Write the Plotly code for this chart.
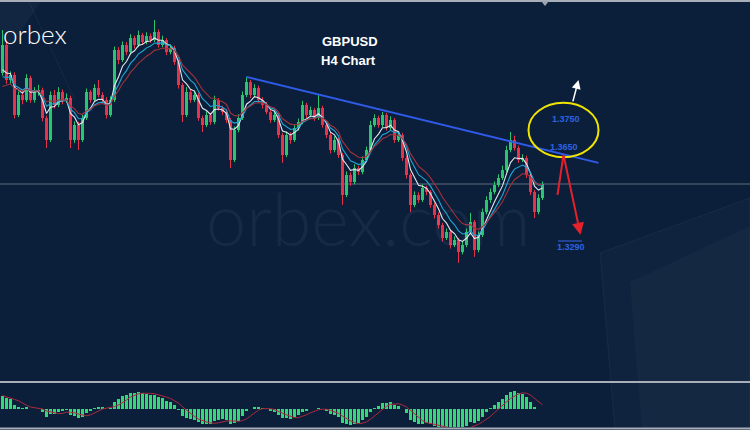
import plotly.graph_objects as go

# ---------------- data (GBPUSD H4 candles) ----------------
opens = [1.3910, 1.4008, 1.3885, 1.3903, 1.3763, 1.3833, 1.3815, 1.3892, 1.3815, 1.3843,
         1.3850, 1.3752, 1.3675, 1.3833, 1.3798, 1.3843, 1.3815, 1.3822, 1.3675, 1.3728,
         1.3675, 1.3752, 1.3843, 1.3815, 1.3857, 1.3833, 1.3815, 1.3763, 1.3815, 1.3990,
         1.3955, 1.4008, 1.3983, 1.4032, 1.4008, 1.4042, 1.4018, 1.4039, 1.4025, 1.4053,
         1.4008, 1.4025, 1.3983, 1.3997, 1.3948, 1.3868, 1.3763, 1.3843, 1.3815, 1.3833,
         1.3752, 1.3728, 1.3763, 1.3738, 1.3815, 1.3787, 1.3773, 1.3745, 1.3605, 1.3710,
         1.3752, 1.3833, 1.3878, 1.3833, 1.3857, 1.3815, 1.3798, 1.3773, 1.3745, 1.3763,
         1.3693, 1.3623, 1.3693, 1.3675, 1.3717, 1.3738, 1.3798, 1.3763, 1.3780, 1.3752,
         1.3787, 1.3728, 1.3693, 1.3640, 1.3675, 1.3623, 1.3483, 1.3553, 1.3528, 1.3577,
         1.3563, 1.3605, 1.3640, 1.3728, 1.3752, 1.3728, 1.3763, 1.3717, 1.3745, 1.3675,
         1.3693, 1.3612, 1.3553, 1.3448, 1.3483, 1.3465, 1.3507, 1.3493, 1.3448, 1.3413,
         1.3378, 1.3332, 1.3353, 1.3308, 1.3325, 1.3283, 1.3308, 1.3353, 1.3388, 1.3290,
         1.3343, 1.3423, 1.3465, 1.3493, 1.3518, 1.3542, 1.3570, 1.3640, 1.3675, 1.3647,
         1.3605, 1.3612, 1.3553, 1.3493, 1.3423, 1.3472]

highs = [1.4060, 1.4020, 1.3915, 1.3912, 1.3845, 1.3850, 1.3905, 1.3900, 1.3860, 1.3868,
         1.3858, 1.3760, 1.3845, 1.3850, 1.3860, 1.3852, 1.3838, 1.3830, 1.3740, 1.3738,
         1.3765, 1.3855, 1.3850, 1.3870, 1.3885, 1.3842, 1.3825, 1.3828, 1.4002, 1.4000,
         1.4020, 1.4018, 1.4045, 1.4040, 1.4058, 1.4050, 1.4052, 1.4048, 1.4095, 1.4062,
         1.4040, 1.4032, 1.4010, 1.4005, 1.3955, 1.3875, 1.3860, 1.3852, 1.3848, 1.3840,
         1.3760, 1.3775, 1.3770, 1.3830, 1.3822, 1.3795, 1.3782, 1.3752, 1.3722, 1.3765,
         1.3845, 1.3896, 1.3885, 1.3870, 1.3865, 1.3825, 1.3808, 1.3782, 1.3775, 1.3770,
         1.3700, 1.3705, 1.3702, 1.3728, 1.3750, 1.3812, 1.3805, 1.3792, 1.3788, 1.3833,
         1.3795, 1.3735, 1.3700, 1.3688, 1.3682, 1.3630, 1.3565, 1.3562, 1.3590, 1.3585,
         1.3618, 1.3652, 1.3742, 1.3765, 1.3760, 1.3773, 1.3770, 1.3758, 1.3752, 1.3705,
         1.3700, 1.3620, 1.3560, 1.3495, 1.3492, 1.3520, 1.3515, 1.3500, 1.3455, 1.3422,
         1.3385, 1.3365, 1.3360, 1.3338, 1.3332, 1.3320, 1.3365, 1.3420, 1.3395, 1.3355,
         1.3435, 1.3478, 1.3505, 1.3530, 1.3555, 1.3585, 1.3655, 1.3703, 1.3690, 1.3655,
         1.3625, 1.3620, 1.3560, 1.3500, 1.3485, 1.3530]

lows = [1.3900, 1.3872, 1.3870, 1.3750, 1.3755, 1.3800, 1.3808, 1.3805, 1.3806, 1.3830,
        1.3740, 1.3647, 1.3668, 1.3785, 1.3790, 1.3800, 1.3805, 1.3647, 1.3665, 1.3640,
        1.3668, 1.3745, 1.3805, 1.3808, 1.3825, 1.3802, 1.3750, 1.3755, 1.3808, 1.3940,
        1.3948, 1.3972, 1.3975, 1.3995, 1.4000, 1.4008, 1.4010, 1.4015, 1.4018, 1.3998,
        1.4000, 1.3972, 1.3975, 1.3938, 1.3855, 1.3738, 1.3755, 1.3805, 1.3808, 1.3742,
        1.3703, 1.3720, 1.3728, 1.3730, 1.3778, 1.3762, 1.3735, 1.3577, 1.3598, 1.3702,
        1.3745, 1.3825, 1.3822, 1.3825, 1.3805, 1.3785, 1.3765, 1.3735, 1.3738, 1.3682,
        1.3595, 1.3615, 1.3662, 1.3668, 1.3708, 1.3730, 1.3752, 1.3755, 1.3742, 1.3745,
        1.3718, 1.3682, 1.3628, 1.3632, 1.3612, 1.3448, 1.3475, 1.3515, 1.3520, 1.3552,
        1.3555, 1.3598, 1.3632, 1.3720, 1.3718, 1.3720, 1.3708, 1.3710, 1.3665, 1.3668,
        1.3602, 1.3540, 1.3423, 1.3440, 1.3455, 1.3458, 1.3482, 1.3438, 1.3400, 1.3365,
        1.3320, 1.3325, 1.3295, 1.3300, 1.3245, 1.3275, 1.3300, 1.3345, 1.3266, 1.3282,
        1.3335, 1.3415, 1.3455, 1.3485, 1.3510, 1.3535, 1.3562, 1.3632, 1.3638, 1.3595,
        1.3598, 1.3542, 1.3482, 1.3402, 1.3415, 1.3465]

closes = [1.4008, 1.3885, 1.3903, 1.3763, 1.3833, 1.3815, 1.3892, 1.3815, 1.3843, 1.3850,
          1.3752, 1.3675, 1.3833, 1.3798, 1.3843, 1.3815, 1.3822, 1.3675, 1.3728, 1.3675,
          1.3752, 1.3843, 1.3815, 1.3857, 1.3833, 1.3815, 1.3763, 1.3815, 1.3990, 1.3955,
          1.4008, 1.3983, 1.4032, 1.4008, 1.4042, 1.4018, 1.4039, 1.4025, 1.4053, 1.4008,
          1.4025, 1.3983, 1.3997, 1.3948, 1.3868, 1.3763, 1.3843, 1.3815, 1.3833, 1.3752,
          1.3728, 1.3763, 1.3738, 1.3815, 1.3787, 1.3773, 1.3745, 1.3605, 1.3710, 1.3752,
          1.3833, 1.3878, 1.3833, 1.3857, 1.3815, 1.3798, 1.3773, 1.3745, 1.3763, 1.3693,
          1.3623, 1.3693, 1.3675, 1.3717, 1.3738, 1.3798, 1.3763, 1.3780, 1.3752, 1.3787,
          1.3728, 1.3693, 1.3640, 1.3675, 1.3623, 1.3483, 1.3553, 1.3528, 1.3577, 1.3563,
          1.3605, 1.3640, 1.3728, 1.3752, 1.3728, 1.3763, 1.3717, 1.3745, 1.3675, 1.3693,
          1.3612, 1.3553, 1.3448, 1.3483, 1.3465, 1.3507, 1.3493, 1.3448, 1.3413, 1.3378,
          1.3332, 1.3353, 1.3308, 1.3325, 1.3283, 1.3308, 1.3353, 1.3388, 1.3290, 1.3343,
          1.3423, 1.3465, 1.3493, 1.3518, 1.3542, 1.3570, 1.3640, 1.3675, 1.3647, 1.3605,
          1.3612, 1.3553, 1.3493, 1.3423, 1.3472, 1.3521]

title_lines = ["GBPUSD", "H4 Chart"]
level_labels = ["1.3750", "1.3650", "1.3290"]
level_values = [1.3750, 1.3650, 1.3290]
trend_x = [61, 149]
trend_y = [1.3896, 1.3595]
ma_periods = [5, 8, 12]          # white, cyan, dark red
macd_params = (7, 16, 5)

# ---------------- helpers ----------------
W, H = 750, 430
BG = '#0b1f3b'
UP = '#2cc56f'
DN = '#e53449'


def px(x):
    return x / W


def py(y):
    return 1 - y / H


def ema(vals, n):
    k = 2.0 / (n + 1)
    e = sum(vals[:n]) / n
    out = []
    for v in vals:
        e = e + k * (v - e)
        out.append(e)
    return out


def sma(vals, n):
    out = []
    for i in range(len(vals)):
        w = vals[max(0, i - n + 1): i + 1]
        out.append(sum(w) / len(w))
    return out


n = len(closes)
idx = list(range(n))
fig = go.Figure()

# candles
for flag, col in [(True, UP), (False, DN)]:
    xs = [i for i in idx if (closes[i] >= opens[i]) == flag]
    wx, wy = [], []
    for i in xs:
        wx += [i, i, None]
        wy += [lows[i], highs[i], None]
    fig.add_trace(go.Scatter(x=wx, y=wy, mode='lines', line=dict(color=col, width=1),
                             hoverinfo='skip', xaxis='x', yaxis='y'))
    fig.add_trace(go.Bar(x=xs,
                         y=[max(abs(closes[i] - opens[i]), 0.0004) for i in xs],
                         base=[min(opens[i], closes[i]) for i in xs],
                         width=0.55, marker=dict(color=col, line=dict(width=0)),
                         hoverinfo='skip', xaxis='x', yaxis='y'))

# moving averages
for per, col in zip(ma_periods, ['#e4e8ee', '#22a6d6', '#a0323a']):
    fig.add_trace(go.Scatter(x=idx, y=ema(closes, per), mode='lines',
                             line=dict(color=col, width=1.1), hoverinfo='skip',
                             xaxis='x', yaxis='y'))

# MACD
f, s, sg = macd_params
macd = [a - b for a, b in zip(ema(closes, f), ema(closes, s))]
signal = sma(macd, sg)
fig.add_trace(go.Bar(x=idx, y=macd, width=0.72,
                     marker=dict(color='#35d877', line=dict(width=0)),
                     hoverinfo='skip', xaxis='x', yaxis='y2'))
fig.add_trace(go.Scatter(x=idx, y=signal, mode='lines', line=dict(color='#b0283c', width=1),
                         hoverinfo='skip', xaxis='x', yaxis='y2'))
r = 0.8 * max(max(macd) / 24.0, -min(macd) / 17.0)
macd_range = [-18 * r, 25 * r]

shapes = []
# faint background panels
shapes.append(dict(type='path', xref='paper', yref='paper', layer='below',
                   path=f"M {px(600)} {py(253)} L {px(750)} {py(198)} L {px(750)} {py(430)} L {px(615)} {py(430)} Z",
                   fillcolor='rgba(255,255,255,0.018)', line=dict(color='rgba(255,255,255,0.05)', width=1)))
shapes.append(dict(type='path', xref='paper', yref='paper', layer='below',
                   path=f"M {px(630)} {py(282)} L {px(750)} {py(226)} L {px(750)} {py(430)} L {px(642)} {py(430)} Z",
                   fillcolor='rgba(255,255,255,0.025)', line=dict(width=0)))
shapes.append(dict(type='path', xref='paper', yref='paper', layer='below',
                   path=f"M {px(0)} {py(0)} L {px(42)} {py(0)} L {px(0)} {py(62)} Z",
                   fillcolor='rgba(255,255,255,0.03)', line=dict(width=0)))
shapes.append(dict(type='line', xref='paper', yref='paper', layer='below',
                   x0=px(28), y0=py(0), x1=px(75), y1=py(100),
                   line=dict(color='rgba(255,255,255,0.05)', width=1)))
# current price line
shapes.append(dict(type='line', xref='paper', yref='y', x0=0, x1=1,
                   y0=closes[-1], y1=closes[-1], layer='below',
                   line=dict(color='#5f6d7e', width=1)))
# separators
for yy in [1, 382, 428.5]:
    shapes.append(dict(type='line', xref='paper', yref='paper', x0=0, x1=1,
                       y0=py(yy), y1=py(yy), line=dict(color='#a9afb8', width=2)))
shapes.append(dict(type='path', xref='paper', yref='paper',
                   path=f"M {px(541)} {py(1)} L {px(549)} {py(1)} L {px(545)} {py(6)} Z",
                   fillcolor='#9aa2ac', line=dict(width=0)))
# trend line
shapes.append(dict(type='line', xref='x', yref='y', x0=trend_x[0], y0=trend_y[0],
                   x1=trend_x[1], y1=trend_y[1], line=dict(color='#2f5be8', width=2)))
# yellow ellipse
shapes.append(dict(type='circle', xref='x', yref='y', x0=131.5, x1=149, y0=1.3615, y1=1.3805,
                   line=dict(color='#f0e400', width=2)))
# red arrow first leg
shapes.append(dict(type='line', xref='x', yref='y', x0=138.75, y0=1.3483, x1=140.25, y1=1.3623,
                   line=dict(color='#e5212b', width=2)))
# target underline
shapes.append(dict(type='line', xref='paper', yref='paper', x0=px(558), x1=px(582),
                   y0=py(241), y1=py(241), line=dict(color='#2a4fb0', width=1.5)))

annotations = []
annotations.append(dict(xref='x', yref='y', x=144.5, y=1.3343, ax=140.25, ay=1.3623,
                        axref='x', ayref='y', text='', showarrow=True, arrowhead=2,
                        arrowsize=1.2, arrowwidth=2, arrowcolor='#e5212b'))
annotations.append(dict(xref='x', yref='y', x=144, y=1.3885, ax=142.5, ay=1.3805,
                        axref='x', ayref='y', text='', showarrow=True, arrowhead=2,
                        arrowsize=1.2, arrowwidth=1.5, arrowcolor='#ffffff'))
for t, v, xx, ys in zip(level_labels, level_values, [140.75, 140.25, 142], [0, 0, 3]):
    annotations.append(dict(xref='x', yref='y', x=xx, y=v, yshift=ys, text=f"<b>{t}</b>",
                            xanchor='center', yanchor='middle',
                            showarrow=False, font=dict(family='Liberation Sans', size=9, color='#2d62e0')))
annotations.append(dict(xref='paper', yref='paper', x=px(350), y=py(41), text=f"<b>{title_lines[0]}</b>",
                        xanchor='center', yanchor='middle',
                        showarrow=False, font=dict(family='Liberation Sans', size=13, color='white')))
annotations.append(dict(xref='paper', yref='paper', x=px(348), y=py(61), text=f"<b>{title_lines[1]}</b>",
                        xanchor='center', yanchor='middle',
                        showarrow=False, font=dict(family='Liberation Sans', size=13, color='white')))
annotations.append(dict(xref='paper', yref='paper', x=px(1), y=py(34), xanchor='left', yanchor='middle',
                        text="orbex", showarrow=False,
                        font=dict(family='Lato', size=26, color='white', weight=300)))
annotations.append(dict(xref='paper', yref='paper', x=px(368), y=py(218),
                        xanchor='center', yanchor='middle',
                        text="orbex.com", showarrow=False,
                        font=dict(family='Lato', size=72, color='rgba(255,255,255,0.05)', weight=300)))

fig.update_layout(
    width=W, height=H, margin=dict(l=0, r=0, t=0, b=0, pad=0),
    paper_bgcolor=BG, plot_bgcolor='rgba(0,0,0,0)', showlegend=False,
    barmode='overlay', bargap=0,
    xaxis=dict(range=[-0.625, 186.875], visible=False, fixedrange=True),
    yaxis=dict(domain=[50 / 430, 1], range=[1.2835, 1.4165], visible=False, fixedrange=True),
    yaxis2=dict(domain=[3 / 430, 46 / 430], range=macd_range, visible=False, fixedrange=True),
    shapes=shapes, annotations=annotations, hovermode=False,
)

fig.write_html("out.html", config={'displayModeBar': False, 'staticPlot': True},
               post_script="document.body.style.margin='0';document.body.style.overflow='hidden';")
